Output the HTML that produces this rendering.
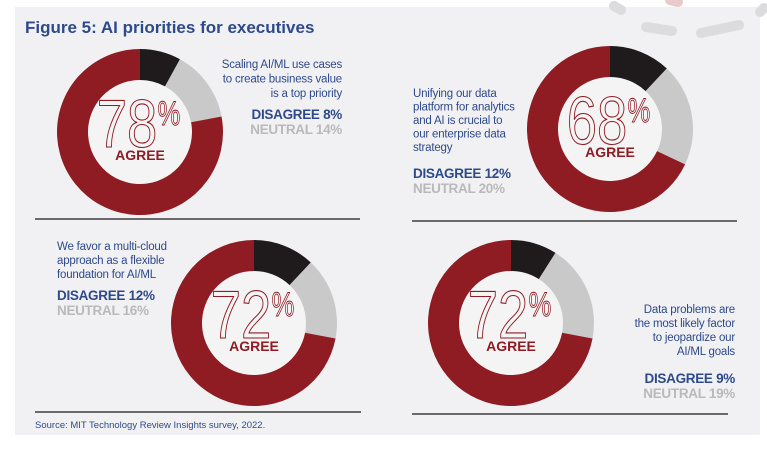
<!DOCTYPE html>
<html><head><meta charset="utf-8"><style>
html,body{margin:0;padding:0;background:#fff;}
body{width:767px;height:445px;overflow:hidden;font-family:"Liberation Sans",sans-serif;}
</style></head><body>
<svg id="chart" width="767" height="445" viewBox="0 0 767 445" xmlns="http://www.w3.org/2000/svg">
<rect x="15" y="7" width="745" height="428" fill="#f1f1f3"/>
<g stroke-linecap="round" stroke-width="10" fill="none">
<line x1="614" y1="6" x2="621" y2="10" stroke="#dcdcde"/>
<line x1="646" y1="27" x2="672" y2="31" stroke="#dcdcde"/>
<line x1="701" y1="33" x2="739" y2="25" stroke="#dcdcde"/>
<line x1="670" y1="0" x2="678" y2="2" stroke="#e9c9c9"/>
<line x1="760" y1="12" x2="764" y2="8" stroke="#dcdcde"/>
</g>
<text x="25" y="33" font-size="17" font-weight="bold" fill="#2e4a8b">Figure 5: AI priorities for executives</text>
<g stroke="#1a1a1a" stroke-width="1.2">
<line x1="35" y1="219" x2="360" y2="219"/>
<line x1="412" y1="221" x2="737" y2="221"/>
<line x1="35" y1="412" x2="361" y2="412"/>
<line x1="412" y1="414" x2="728" y2="414"/>
</g>
<text x="35" y="428" font-size="9.5" fill="#2e4a8b">Source: MIT Technology Review Insights survey, 2022.</text>
<g id="donuts"></g>
<g id="texts"></g>
</svg>
<script>
const statements = [
  ["Scaling AI/ML use cases","to create business value","is a top priority"],
  ["Unifying our data","platform for analytics","and AI is crucial to","our enterprise data","strategy"],
  ["We favor a multi-cloud","approach as a flexible","foundation for AI/ML"],
  ["Data problems are","the most likely factor","to jeopardize our","AI/ML goals"]
];
const agreeValues = [78, 68, 72, 72];
const disagreeValues = [8, 12, 12, 9];
const neutralValues = [14, 20, 16, 19];

const NS = "http://www.w3.org/2000/svg";
const layout = [
  {cx:140, cy:132, tx:342, ty:68, anchor:"end", lh:14.5, d1:22, d2:37},
  {cx:610, cy:129, tx:413, ty:97, anchor:"start", lh:13.5, d1:27, d2:42},
  {cx:254, cy:323, tx:57, ty:250, anchor:"start", lh:14, d1:22, d2:37},
  {cx:511, cy:323, tx:735, ty:313, anchor:"end", lh:14, d1:28, d2:43}
];
const R = 83, RI = 52;
function el(tag, attrs, parent){const e=document.createElementNS(NS,tag);for(const k in attrs)e.setAttribute(k,attrs[k]);parent.appendChild(e);return e;}
function pt(cx,cy,r,frac){const a=frac*2*Math.PI-Math.PI/2;return [cx+r*Math.cos(a),cy+r*Math.sin(a)];}
function arc(cx,cy,f0,f1){
  const large=(f1-f0)>0.5?1:0;
  const [x0,y0]=pt(cx,cy,R,f0),[x1,y1]=pt(cx,cy,R,f1),[x2,y2]=pt(cx,cy,RI,f1),[x3,y3]=pt(cx,cy,RI,f0);
  return `M${x0},${y0} A${R},${R} 0 ${large} 1 ${x1},${y1} L${x2},${y2} A${RI},${RI} 0 ${large} 0 ${x3},${y3} Z`;
}
const dg=document.getElementById('donuts'), tg=document.getElementById('texts');
for(let i=0;i<4;i++){
  const L=layout[i];
  const total=agreeValues[i]+disagreeValues[i]+neutralValues[i];
  const segs=[[disagreeValues[i],"#1f1a1b","slice-disagree"],[neutralValues[i],"#c9c9c9","slice-neutral"],[agreeValues[i],"#8e1c22","slice-agree"]];
  const g=el('g',{},dg);
  
  
  el('circle',{cx:L.cx,cy:L.cy,r:RI,fill:"#f4f4f5"},g);
  let acc=0;
  segs.forEach(s=>{
    const f0=acc/total; acc+=s[0]; const f1=acc/total;
    const p=el('path',{d:arc(L.cx,L.cy,f0,f1),fill:s[1]},g);
    
    
  });
  const big=el('text',{x:0,y:0,'font-size':68,fill:"none",stroke:"#8e1c22",'stroke-width':1.1,'text-anchor':"middle",transform:`translate(${L.cx-13},${L.cy+15}) scale(0.8,1)`},g);
  big.textContent=agreeValues[i];
  
  
  const pc=el('text',{x:0,y:0,'font-size':34,fill:"none",stroke:"#8e1c22",'stroke-width':0.9,'text-anchor':"middle",transform:`translate(${L.cx+29},${L.cy-7}) scale(0.75,1)`},g);
  pc.textContent="%";
  
  
  const ag=el('text',{x:L.cx,y:L.cy+28,'font-size':14,'font-weight':"bold",fill:"#8e1c22",'text-anchor':"middle"},g);
  ag.textContent="AGREE";
  
  

  const t=el('g',{},tg);
  
  
  statements[i].forEach((line,j)=>{
    const tx=el('text',{x:L.tx,y:L.ty+j*L.lh,'font-size':11.5,fill:"#2e4a8b",'text-anchor':L.anchor,'letter-spacing':"-0.2"},t);
    tx.textContent=line;
  });
  const last=L.ty+(statements[i].length-1)*L.lh;
  const dis=el('text',{x:L.tx,y:last+L.d1,'font-size':13.5,'font-weight':"bold",fill:"#2e4a8b",'text-anchor':L.anchor,'letter-spacing':"-0.3"},t);
  dis.textContent="DISAGREE "+disagreeValues[i]+"%";
  
  
  const neu=el('text',{x:L.tx,y:last+L.d2,'font-size':13.5,'font-weight':"bold",fill:"#b9b9bb",'text-anchor':L.anchor,'letter-spacing':"-0.3"},t);
  neu.textContent="NEUTRAL "+neutralValues[i]+"%";
  
  
}
</script>
</body></html>
